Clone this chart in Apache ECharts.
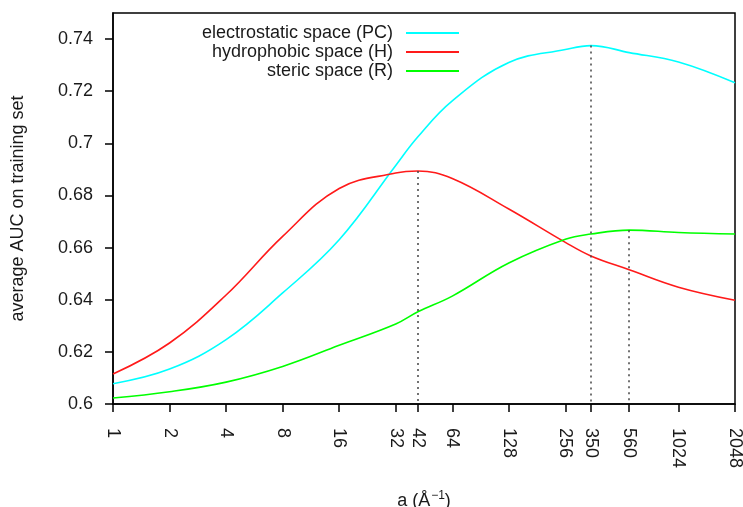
<!DOCTYPE html>
<html>
<head>
<meta charset="utf-8">
<script src="https://cdn.jsdelivr.net/npm/echarts@6/dist/echarts.min.js"></script>
<style>html,body{margin:0;padding:0;background:#fff;}#c{width:743px;height:507px;}</style>
</head>
<body>
<div id="c"></div>
<script>
const aValues = [1, 2, 4, 8, 16, 32, 42, 64, 128, 256, 350, 560, 1024, 2048];
const xTicks = [1, 2, 4, 8, 16, 32, 42, 64, 128, 256, 350, 560, 1024, 2048];
const yTicks = [0.6, 0.62, 0.64, 0.66, 0.68, 0.7, 0.72, 0.74];
const electrostatic = [0.6078, 0.6134, 0.6247, 0.6426, 0.6630, 0.6915, 0.7025, 0.7163, 0.7310, 0.7360, 0.7375, 0.7348, 0.7312, 0.7232];
const hydrophobic   = [0.6115, 0.6234, 0.6418, 0.6643, 0.6827, 0.6886, 0.6894, 0.6865, 0.6748, 0.6620, 0.6568, 0.6515, 0.6448, 0.6398];
const steric        = [0.6023, 0.6047, 0.6084, 0.6144, 0.6225, 0.6307, 0.6354, 0.6414, 0.6541, 0.6632, 0.6652, 0.6667, 0.6658, 0.6652];
const seriesNames = ['electrostatic space (PC)', 'hydrophobic space (H)', 'steric space (R)'];
const peakIdx = [10, 6, 11];

const font = 'Liberation Sans, Arial, sans-serif';
const colors = ['#00ffff', '#ff1a1a', '#00ff00'];
const datasets = [electrostatic, hydrophobic, steric];

function mkSeries(i) {
  const vals = datasets[i];
  const px = aValues[peakIdx[i]];
  const py = vals[peakIdx[i]];
  return {
    name: seriesNames[i],
    type: 'line',
    data: aValues.map((a, k) => [a, vals[k]]),
    smooth: 0.4,
    symbol: 'none',
    lineStyle: { color: colors[i], width: 1.6 },
    itemStyle: { color: colors[i] },
    z: 3,
    markLine: {
      silent: true,
      symbol: 'none',
      label: { show: false },
      lineStyle: { color: '#444', type: [2, 4], width: 1.5 },
      data: [[{ coord: [px, py] }, { coord: [px, yTicks[0]] }]]
    }
  };
}

const chart = echarts.init(document.getElementById('c'), null, { renderer: 'canvas' });
chart.setOption({
  animation: false,
  textStyle: { fontFamily: font },
  grid: { left: 113, right: 8, top: 13, bottom: 103, containLabel: false, outerBoundsMode: 'none', show: true, borderColor: '#000', borderWidth: 1.5, backgroundColor: 'transparent' },
  legend: {
    orient: 'vertical',
    align: 'right',
    right: 279,
    top: 19,
    itemGap: 1,
    itemWidth: 53,
    itemHeight: 2,
    icon: 'rect',
    textStyle: { fontSize: 18, color: '#1a1a1a', fontFamily: font, lineHeight: 18, padding: [0, 8, 0, 0] },
    data: seriesNames
  },
  xAxis: {
    type: 'log',
    logBase: 2,
    min: xTicks[0],
    max: xTicks[xTicks.length - 1],
    name: '{n|a (Å}{sup|−1}{n|)}',
    nameLocation: 'middle',
    nameGap: 86,
    nameTextStyle: {
      fontSize: 18, color: '#1a1a1a', fontFamily: font,
      rich: {
        n: { fontSize: 18, lineHeight: 20, color: '#1a1a1a', fontFamily: font, verticalAlign: 'bottom' },
        sup: { fontSize: 12, lineHeight: 12, color: '#1a1a1a', fontFamily: font, verticalAlign: 'top', padding: [0, 0, 8, 1] }
      }
    },
    axisLine: { show: true, lineStyle: { color: '#000', width: 1.5 } },
    axisTick: { show: true, inside: false, length: 8, lineStyle: { color: '#000', width: 1.5 }, customValues: xTicks },
    axisLabel: { rotate: -90, fontSize: 18, color: '#1a1a1a', margin: 24, customValues: xTicks, formatter: v => String(Math.round(v)) },
    splitLine: { show: false },
    minorTick: { show: false }
  },
  yAxis: {
    type: 'value',
    min: 0.6,
    max: 0.75,
    name: 'average AUC on training set',
    nameLocation: 'middle',
    nameGap: 86,
    nameRotate: 90,
    nameTextStyle: { fontSize: 18, color: '#1a1a1a', fontFamily: font },
    axisLine: { show: true, lineStyle: { color: '#000', width: 1.5 } },
    axisTick: { show: true, inside: false, length: 8, lineStyle: { color: '#000', width: 1.5 }, customValues: yTicks },
    axisLabel: { fontSize: 18, color: '#1a1a1a', margin: 20, customValues: yTicks, formatter: v => String(+v.toFixed(2)) },
    splitLine: { show: false }
  },
  series: [mkSeries(0), mkSeries(1), mkSeries(2)]
});
</script>
</body>
</html>
